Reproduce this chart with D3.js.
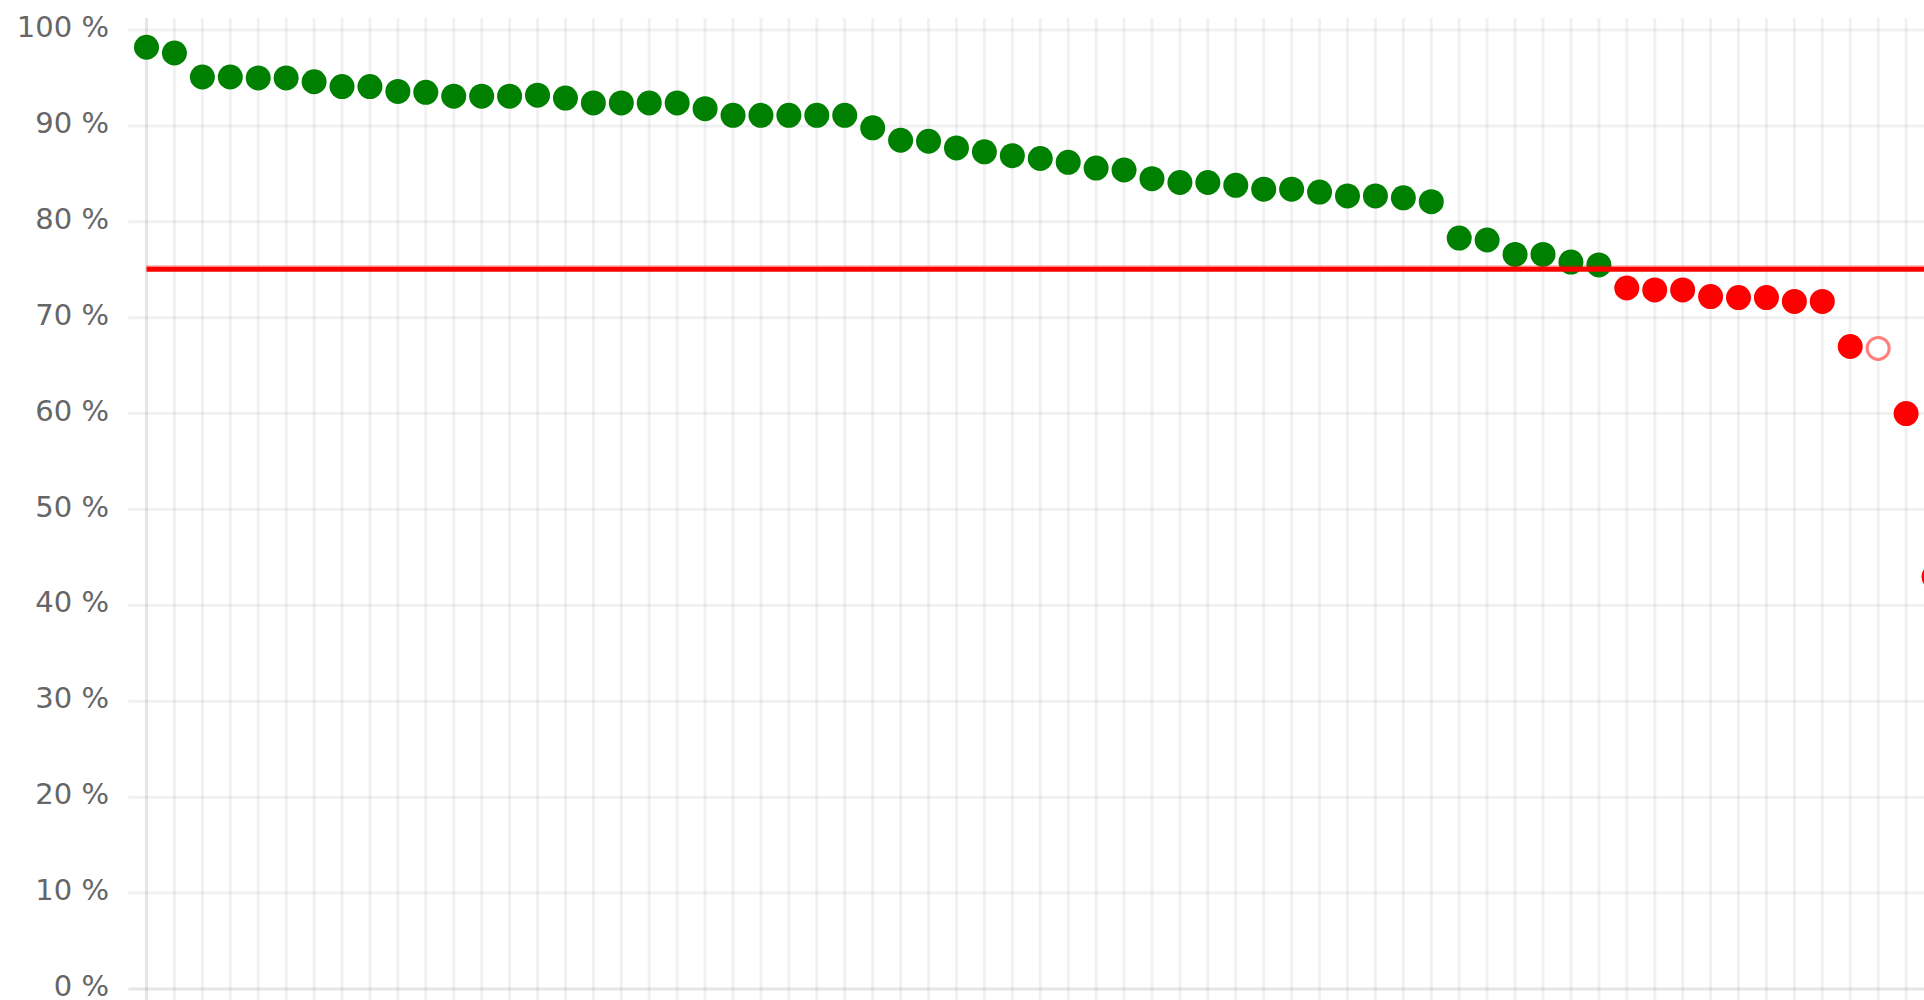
<!DOCTYPE html>
<html>
<head>
<meta charset="utf-8">
<script src="https://cdn.jsdelivr.net/npm/d3@7"></script>
<style>
    html, body { margin: 0; padding: 0; background: #fff; overflow: hidden; }
    .tick-text { font-family: "DejaVu Sans", sans-serif; font-size: 29px; fill: #666; }
</style>
</head>
<body>
<div id="chart"></div>
<script>
// --- Data (percent per item, sorted) ---
const values = [
    98.2, 97.6, 95.1, 95.1, 95.0, 95.0, 94.6, 94.1, 94.1, 93.6,
    93.5, 93.1, 93.1, 93.1, 93.2, 92.9, 92.4, 92.4, 92.4, 92.4,
    91.8, 91.1, 91.1, 91.1, 91.1, 91.1, 89.8, 88.5, 88.4, 87.7,
    87.3, 86.9, 86.6, 86.2, 85.6, 85.4, 84.5, 84.1, 84.1, 83.8,
    83.4, 83.4, 83.1, 82.7, 82.7, 82.5, 82.1, 78.3, 78.1, 76.6,
    76.6, 75.8, 75.5, 73.1, 72.9, 72.9, 72.2, 72.1, 72.1, 71.7,
    71.7, 67.0, 66.8, 60.0, 43.0
];
// open markers (index in values)
const hollowPoints = [62];
const threshold = 75;
const yTicks = [0, 10, 20, 30, 40, 50, 60, 70, 80, 90, 100];

const width = 1924;
const height = 1000;
const margin = { top: 30, left: 146.5, bottom: 11 };
const step = 27.93; // distance between two items

const svg = d3.select("#chart")
    .append("svg")
    .attr("width", width)
    .attr("height", height);

// --- Scales ---
const x = d3.scalePoint()
    .domain(d3.range(values.length))
    .range([margin.left, margin.left + step * (values.length - 1)]);

const y = d3.scaleLinear()
    .domain([0, 100])
    .range([height - margin.bottom, margin.top]);

// --- Grid lines ---
const gridColor = "rgba(0,0,0,0.055)";
const axisColor = "rgba(0,0,0,0.1)";

// horizontal grid (with short ticks on the left)
svg.append("g")
    .selectAll("line")
    .data(yTicks)
    .enter().append("line")
    .attr("x1", margin.left - 18)
    .attr("x2", width)
    .attr("y1", d => y(d))
    .attr("y2", d => y(d))
    .attr("stroke", d => d === 0 ? axisColor : gridColor)
    .attr("stroke-width", 3);

// vertical grid, one per item (with ticks below the axis)
svg.append("g")
    .selectAll("line")
    .data(x.domain())
    .enter().append("line")
    .attr("x1", d => x(d))
    .attr("x2", d => x(d))
    .attr("y1", y(100) - 12)
    .attr("y2", height)
    .attr("stroke", (d, i) => i === 0 ? axisColor : gridColor)
    .attr("stroke-width", 3);

// --- Y axis labels ---
svg.append("g")
    .selectAll("text")
    .data(yTicks)
    .enter().append("text")
    .attr("class", "tick-text")
    .attr("x", 109)
    .attr("y", d => y(d) + 7)
    .attr("text-anchor", "end")
    .text(d => d + " %");

// --- Points ---
const points = values.map((v, i) => ({ i: i, v: v, hollow: hollowPoints.includes(i) }));

svg.append("g")
    .selectAll("circle")
    .data(points)
    .enter().append("circle")
    .attr("cx", d => x(d.i))
    .attr("cy", d => y(d.v))
    .attr("r", d => d.hollow ? 11 : 12.5)
    .attr("fill", d => d.hollow ? "#fff" : (d.v >= threshold ? "#008000" : "#ff0000"))
    .attr("stroke", d => d.hollow ? "rgba(255,0,0,0.5)" : "none")
    .attr("stroke-width", d => d.hollow ? 3 : 0);

// --- Threshold line (drawn over the points) ---
svg.append("line")
    .attr("x1", margin.left)
    .attr("x2", width)
    .attr("y1", y(threshold) - 3)
    .attr("y2", y(threshold) - 3)
    .attr("stroke", "rgba(255,0,0,0.3)")
    .attr("stroke-width", 3);

svg.append("line")
    .attr("x1", margin.left)
    .attr("x2", width)
    .attr("y1", y(threshold) - 0.5)
    .attr("y2", y(threshold) - 0.5)
    .attr("stroke", "#ff0000")
    .attr("stroke-width", 5);
</script>
</body>
</html>
